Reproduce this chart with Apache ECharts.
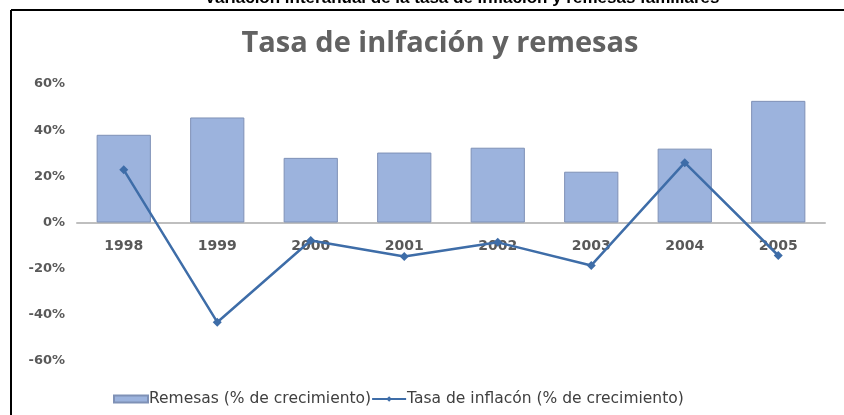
<!DOCTYPE html>
<html>
<head>
<meta charset="utf-8">
<script src="https://cdn.jsdelivr.net/npm/echarts@6/dist/echarts.min.js"></script>
<style>
html,body{margin:0;padding:0;background:#fff;}
#chart{width:844px;height:415px;}
</style>
</head>
<body>
<div id="chart"></div>
<script>
const categories = ['1998','1999','2000','2001','2002','2003','2004','2005'];
const remesas = [38, 45.5, 28, 30.3, 32.4, 22, 32, 52.7];
const inflacion = [22.8, -43.2, -7.8, -14.7, -8.6, -18.6, 25.9, -14.3];
const yTicks = {min: -60, max: 60, interval: 20};
const titleText = 'Tasa de inlfación y remesas';
const topText = 'Variación interanual de la tasa de inflación y remesas familiares';
const seriesNames = ['Remesas (% de crecimiento)', 'Tasa de inflacón (% de crecimiento)'];

const chart = echarts.init(document.getElementById('chart'), null, {renderer: 'canvas'});
chart.setOption({
  backgroundColor: '#ffffff',
  animation: false,
  title: {
    text: titleText,
    left: 435, textAlign: 'center',
    top: 24,
    textStyle: {fontFamily: 'Open Sans', fontWeight: 'bold', fontSize: 29, color: '#626262'}
  },
  graphic: [
    {type: 'text', x: 462, y: -2, style: {text: topText, x: 0, y: 0, textAlign: 'center', textVerticalAlign: 'middle', fontFamily: 'Liberation Sans', fontWeight: 'bold', fontSize: 17, fill: '#000'}},
    {type: 'line', shape: {x1: 11, y1: 10, x2: 844, y2: 10}, style: {stroke: '#000', lineWidth: 2}},
    {type: 'line', shape: {x1: 11, y1: 10, x2: 11, y2: 415}, style: {stroke: '#000', lineWidth: 2}}
  ],
  legend: {
    left: 113, top: 391, padding: 0,
    itemGap: 0,
    itemWidth: 34, itemHeight: 7,
    textStyle: {fontFamily: 'DejaVu Sans', fontSize: 15.5, color: '#404040', padding: [0,0,0,-4]},
    data: [
      {name: seriesNames[0], icon: 'rect'},
      {name: seriesNames[1]}
    ]
  },
  grid: {left: 77, right: 19, top: 84, bottom: 54},
  xAxis: {
    type: 'category',
    data: categories,
    offset: -138.5,
    axisLine: {onZero: false, lineStyle: {color: '#bfbfbf', width: 2}},
    axisTick: {show: false},
    axisLabel: {margin: 17, fontFamily: 'DejaVu Sans', fontWeight: 'bold', fontSize: 14, color: '#595959'}
  },
  yAxis: {
    type: 'value',
    min: yTicks.min, max: yTicks.max, interval: yTicks.interval,
    axisLine: {show: false},
    axisTick: {show: false},
    splitLine: {show: false},
    axisLabel: {formatter: '{value}%', margin: 12, fontFamily: 'DejaVu Sans', fontWeight: 'bold', fontSize: 13, color: '#595959'}
  },
  series: [
    {
      name: seriesNames[0], type: 'bar', data: remesas,
      barWidth: '58%',
      itemStyle: {color: '#9cb3dd', borderColor: '#7f91b6', borderWidth: 1}
    },
    {
      name: seriesNames[1], type: 'line', data: inflacion,
      symbol: 'diamond', symbolSize: 9,
      lineStyle: {color: '#3e6da8', width: 2.5},
      itemStyle: {color: '#3e6da8'}
    }
  ]
});
</script>
</body>
</html>
